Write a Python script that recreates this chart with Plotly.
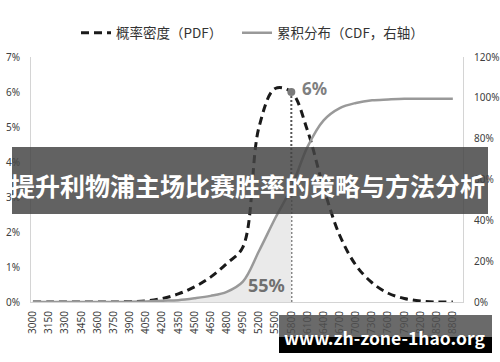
import plotly.graph_objects as go

categories = ["3000", "3150", "3300", "3450", "3600", "3750", "3900", "4050", "4200",
              "4350", "4500", "4650", "4800", "4950", "5200", "5500", "5800", "6100",
              "6400", "6700", "7000", "7300", "7600", "7900", "8200", "8500", "8800"]

pdf_values = [0.0, 0.0, 0.0, 0.0, 0.0, 0.0, 0.0001, 0.0003, 0.0010, 0.0023, 0.0043, 0.0071,
              0.0110, 0.0157, 0.0500, 0.0610, 0.0600, 0.0490, 0.0326, 0.0190, 0.0105,
              0.0055, 0.0025, 0.0010, 0.0003, 0.0, 0.0]

cdf_values = [0.0, 0.0, 0.0, 0.0, 0.0, 0.0, 0.001, 0.003, 0.006, 0.009, 0.018, 0.030,
              0.050, 0.100, 0.250, 0.410, 0.560, 0.760, 0.890, 0.950, 0.975, 0.988,
              0.992, 0.995, 0.995, 0.995, 0.995]

highlight_index = 16
pdf_label = "6%"
cdf_label = "55%"
legend_names = ["概率密度（PDF）", "累积分布（CDF，右轴）"]
banner_title = "提升利物浦主场比赛胜率的策略与方法分析"
watermark = "www.zh-zone-1hao.org"

W, H = 500, 362
L, R, T, B = 31, 37, 57, 60
PW, PH = W - L - R, H - T - B


def px_x(p):
    return (p - L) / PW


def px_y(p):
    return (H - B - p) / PH


fig = go.Figure()

# shaded area under CDF up to highlight
fig.add_trace(go.Scatter(
    x=categories[:highlight_index + 1], y=cdf_values[:highlight_index + 1],
    yaxis="y2", mode="lines", line=dict(width=0, shape="spline"),
    fill="tozeroy", fillcolor="#eaeaea", showlegend=False, hoverinfo="skip"))

# dotted vertical line
fig.add_trace(go.Scatter(
    x=[categories[highlight_index], categories[highlight_index]],
    y=[0, pdf_values[highlight_index]], mode="lines",
    line=dict(color="#555555", width=2, dash="2px,2px"), showlegend=False, hoverinfo="skip"))

# CDF line
fig.add_trace(go.Scatter(
    x=categories, y=cdf_values, yaxis="y2", mode="lines", name=legend_names[1],
    line=dict(color="#999999", width=2.5, shape="spline"), legend="legend2"))

# PDF dashed line
fig.add_trace(go.Scatter(
    x=categories, y=pdf_values, mode="lines", name=legend_names[0],
    line=dict(color="#1a1a1a", width=3, dash="8px,5px", shape="spline"), legend="legend"))

# highlight marker
fig.add_trace(go.Scatter(
    x=[categories[highlight_index]], y=[pdf_values[highlight_index]], mode="markers",
    marker=dict(color="#7a7a7a", size=8), showlegend=False, hoverinfo="skip"))

tickfont = dict(family="Noto Sans, Open Sans, sans-serif", size=10, color="#404040")
legfont = dict(size=13.5, color="#333333", family="Noto Sans CJK SC, sans-serif")

fig.update_layout(
    width=W, height=H, autosize=False,
    margin=dict(l=L, r=R, t=T, b=B),
    paper_bgcolor="white", plot_bgcolor="white",
    font=dict(family="Noto Sans CJK SC, Noto Sans, sans-serif", color="#404040"),
    xaxis=dict(type="category", range=[-0.12, 26.63], showgrid=False, zeroline=False,
               showline=True, linecolor="#d4d4d4", linewidth=1, tickangle=-90,
               tickfont=tickfont, ticks="", ticklabelstandoff=4, automargin=False),
    yaxis=dict(range=[0, 0.07], dtick=0.01, tickformat=".0%", showgrid=False,
               zeroline=False, showline=True, linecolor="#d4d4d4", linewidth=1,
               tickfont=tickfont, ticks="", ticklabelstandoff=8, automargin=False),
    yaxis2=dict(range=[0, 1.2], dtick=0.2, tickformat=".0%", showgrid=False,
                zeroline=False, showline=True, linecolor="#d4d4d4", linewidth=1,
                overlaying="y", side="right", tickfont=tickfont, ticks="",
                ticklabelstandoff=8, automargin=False),
    legend=dict(orientation="h", x=px_x(76), xanchor="left", y=px_y(33),
                yanchor="middle", font=legfont, bgcolor="rgba(0,0,0,0)", itemwidth=30),
    legend2=dict(orientation="h", x=px_x(237), xanchor="left", y=px_y(33),
                 yanchor="middle", font=legfont, bgcolor="rgba(0,0,0,0)", itemwidth=30),
    showlegend=True,
)

# value labels
fig.add_annotation(x=highlight_index, y=pdf_values[highlight_index],
                   text=pdf_label, showarrow=False, xanchor="left", yanchor="middle",
                   xshift=9, yshift=4,
                   font=dict(size=17, color="#7f7f7f", family="Noto Sans, sans-serif",
                             weight="bold"))
fig.add_annotation(x=highlight_index, y=0, text=cdf_label, showarrow=False,
                   xanchor="right", yanchor="bottom", xshift=-4, yshift=3,
                   font=dict(size=18, color="#707070", family="Noto Sans, sans-serif",
                             weight="bold"))

# banner overlay
fig.add_shape(type="rect", xref="paper", yref="paper",
              x0=px_x(12), x1=px_x(488), y0=px_y(214), y1=px_y(147),
              fillcolor="rgba(68,68,68,0.84)", line=dict(width=0), layer="above")
fig.add_annotation(xref="paper", yref="paper", x=px_x(248), y=px_y(185),
                   text=banner_title, showarrow=False, xanchor="center", yanchor="middle",
                   font=dict(size=25, color="white", family="Noto Sans CJK SC",
                             weight="bold"))

# watermark
fig.add_shape(type="rect", xref="paper", yref="paper",
              x0=px_x(279), x1=px_x(492), y0=px_y(337), y1=px_y(315),
              fillcolor="rgba(80,80,80,0.85)", line=dict(width=0), layer="above")
fig.add_shape(type="rect", xref="paper", yref="paper",
              x0=px_x(279), x1=px_x(492), y0=px_y(353), y1=px_y(337),
              fillcolor="black", line=dict(width=0), layer="above")
fig.add_annotation(xref="paper", yref="paper", x=px_x(384), y=px_y(337),
                   text=watermark, showarrow=False, xanchor="center", yanchor="middle",
                   font=dict(size=17.5, color="white", family="Noto Sans CJK SC",
                             weight="bold"))

fig.write_html("out.html")
